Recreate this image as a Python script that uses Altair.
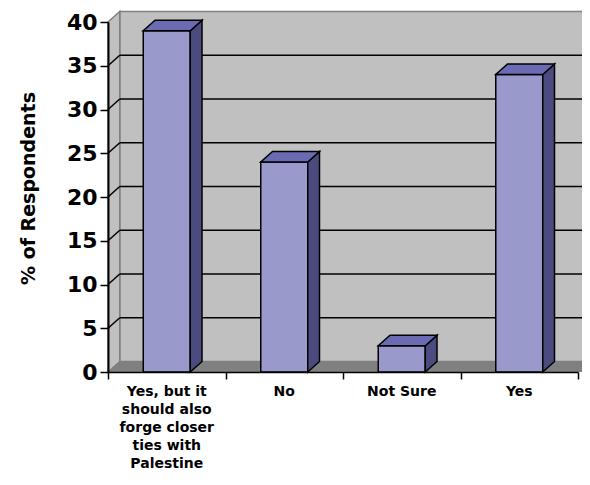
import altair as alt
import pandas as pd

# ---- data ----
categories = ["Yes, but it\nshould also\nforge closer\nties with\nPalestine", "No", "Not Sure", "Yes"]
values = [39, 24, 3, 34]
y_ticks = [0, 5, 10, 15, 20, 25, 30, 35, 40]
x_ticks = [0, 1, 2, 3, 4]

# ---- 3D styling constants (depth in data units) ----
DX = 0.1
DY = 1.2
BAR_L = 0.3
BAR_R = 0.7
XMAX = 4.25
YMAX = 40

FONT = "DejaVu Sans"
FRONT = "#9999CC"
TOP = "#6B6BB3"
SIDE = "#4B4B80"
WALL = "#C0C0C0"
FLOOR = "#808080"

xs = alt.Scale(domain=[0, 4], nice=False, zero=False)
ys = alt.Scale(domain=[0, 40], nice=False, zero=False)

x_axis = alt.Axis(values=x_ticks, labels=False, title=None, ticks=True, tickSize=7,
                  tickColor="black", tickWidth=1.5, domainColor="black", domainWidth=1.5,
                  grid=False, zindex=1)
y_axis = alt.Axis(values=y_ticks, title="% of Respondents", titleFont=FONT, titleFontSize=19,
                  titleFontWeight="bold", titleColor="black", titleX=-80, titleY=166,
                  titleAngle=270, titleAlign="center", titleBaseline="middle",
                  labelFont=FONT, labelFontSize=22, labelFontWeight="bold", labelColor="black",
                  labelPadding=3, tickSize=8, tickColor="black", tickWidth=1.5,
                  domainColor="black", domainWidth=2, grid=False, zindex=1)


def X(f):
    return alt.X(f, type="quantitative", scale=xs, axis=x_axis)


def Y(f):
    return alt.Y(f, type="quantitative", scale=ys, axis=y_axis)


# walls / floor
back_df = pd.DataFrame({"x0": [DX], "x1": [XMAX], "y0": [DY], "y1": [YMAX + DY]})
floor_df = pd.DataFrame({"x0": [0], "x1": [XMAX], "y0": [0], "y1": [DY]})
left_df = pd.DataFrame({"x": [0, DX], "lo": [0, DY], "hi": [YMAX, YMAX + DY]})

grid_vals = [v for v in y_ticks if 0 < v < YMAX]
grid_df = pd.DataFrame({"v": grid_vals,
                        "vb": [v + DY for v in grid_vals],
                        "xa": [0] * len(grid_vals),
                        "xb": [DX] * len(grid_vals),
                        "xe": [XMAX] * len(grid_vals)})

back = alt.Chart(back_df).mark_rect(fill=WALL, stroke="#808080", strokeWidth=1.5).encode(
    x=X("x0"), x2="x1", y=Y("y0"), y2="y1")
floor = alt.Chart(floor_df).mark_rect(fill=FLOOR).encode(
    x=X("x0"), x2="x1", y=Y("y0"), y2="y1")
left = alt.Chart(left_df).mark_area(fill=WALL, stroke="#808080", strokeWidth=1.5).encode(
    x=X("x"), y=Y("lo"), y2="hi")
grid_back = alt.Chart(grid_df).mark_rule(color="black", strokeWidth=1.5).encode(
    x=X("xb"), x2="xe", y=Y("vb"))
grid_diag = alt.Chart(grid_df).mark_rule(color="black", strokeWidth=1.5).encode(
    x=X("xa"), x2="xb", y=Y("v"), y2="vb")

# bars
front_rows, side_rows, top_rows = [], [], []
for i, (c, v) in enumerate(zip(categories, values)):
    front_rows.append({"bar": i, "x0": i + BAR_L, "x1": i + BAR_R, "y0": 0, "y1": v})
    side_rows += [{"bar": i, "x": i + BAR_R, "lo": 0, "hi": v},
                  {"bar": i, "x": i + BAR_R + DX, "lo": DY, "hi": v + DY}]
    top_rows += [{"bar": i, "x": i + BAR_L, "lo": v, "hi": v},
                 {"bar": i, "x": i + BAR_L + DX, "lo": v, "hi": v + DY},
                 {"bar": i, "x": i + BAR_R, "lo": v, "hi": v + DY},
                 {"bar": i, "x": i + BAR_R + DX, "lo": v + DY, "hi": v + DY}]

front = alt.Chart(pd.DataFrame(front_rows)).mark_rect(
    fill=FRONT, stroke="black", strokeWidth=1.5).encode(
    x=X("x0"), x2="x1", y=Y("y0"), y2="y1")
side = alt.Chart(pd.DataFrame(side_rows)).mark_area(
    fill=SIDE, stroke="black", strokeWidth=1.5).encode(
    x=X("x"), y=Y("lo"), y2="hi", detail="bar:N")
top = alt.Chart(pd.DataFrame(top_rows)).mark_area(
    fill=TOP, stroke="black", strokeWidth=1.5).encode(
    x=X("x"), y=Y("lo"), y2="hi", detail="bar:N")

label_df = pd.DataFrame({"cat": categories, "xc": [i + 0.5 for i in range(len(categories))]})
labels = alt.Chart(label_df).mark_text(
    font=FONT, fontSize=14, fontWeight="bold", lineBreak="\n", baseline="alphabetic",
    align="center", lineHeight=18, color="black").encode(
    x=X("xc"), y=alt.value(374), text="cat:N")

chart = alt.layer(back, floor, left, grid_back, grid_diag, front, side, top, labels).properties(
    width=470, height=350,
    padding={"left": 100, "top": 14, "right": 4, "bottom": 100},
    autosize=alt.AutoSizeParams(type="none"),
).configure_view(strokeWidth=0)

chart.save("out.html", embed_options={"renderer": "svg", "actions": False})
